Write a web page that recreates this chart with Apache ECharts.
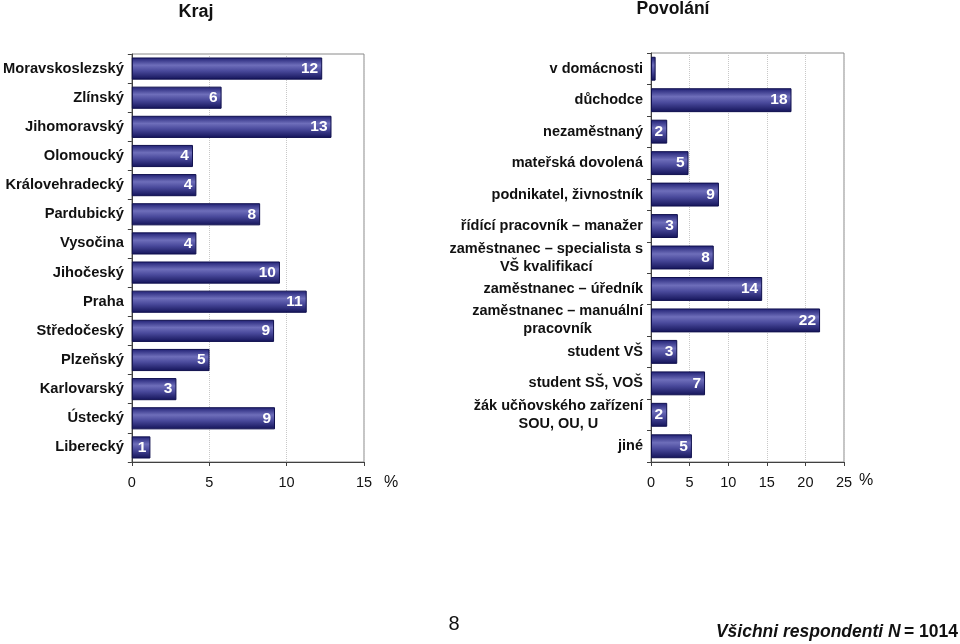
<!DOCTYPE html>
<html>
<head>
<meta charset="utf-8">
<script src="https://cdn.jsdelivr.net/npm/echarts@6/dist/echarts.min.js"></script>
<style>
html,body{margin:0;padding:0;background:#fff;}
#c{width:960px;height:644px;}
</style>
</head>
<body>
<div id="c"></div>
<script>
// ---- data ----
const krajCategories = ['Moravskoslezský','Zlínský','Jihomoravský','Olomoucký','Královehradecký','Pardubický','Vysočina','Jihočeský','Praha','Středočeský','Plzeňský','Karlovarský','Ústecký','Liberecký'];
const krajValues = [12.3, 5.8, 12.9, 3.95, 4.17, 8.29, 4.17, 9.57, 11.3, 9.19, 5.02, 2.88, 9.25, 1.2];
const krajTicks = [0, 5, 10, 15];

const povolaniCategories = ['v domácnosti','důchodce','nezaměstnaný','mateřská dovolená','podnikatel, živnostník','řídící pracovník – manažer','zaměstnanec – specialista s\nVŠ kvalifikací','zaměstnanec – úředník','zaměstnanec – manuální\npracovník','student VŠ','student SŠ, VOŠ','žák učňovského zařízení\nSOU, OU, U','jiné'];
const povolaniValues = [0.6, 18.2, 2.1, 4.86, 8.8, 3.48, 8.13, 14.4, 21.9, 3.4, 7.0, 2.1, 5.3];
const povolaniTicks = [0, 5, 10, 15, 20, 25];

const titleLeft = 'Kraj';
const titleRight = 'Povolání';
const pageNumber = '8';
const footnoteItalic = 'Všichni respondenti N';
const footnoteRest = '= 1014';
const unit = '%';

// ---- styles ----
const FONT = 'Liberation Sans, Arial, sans-serif';
const barGradient = new echarts.graphic.LinearGradient(0, 0, 0, 1, [
  {offset: 0, color: '#1e1e72'},
  {offset: 0.35, color: '#6e6eba'},
  {offset: 0.6, color: '#4a4a9c'},
  {offset: 1, color: '#131358'}
]);

function catLabelFormatter(v) {
  return v.split('\n').map(l => '{c|' + l + '}').join('\n');
}

function yAxisCommon(gridIndex, cats, fontSize) {
  return {
    type: 'category', gridIndex: gridIndex, data: cats, inverse: true,
    axisLine: {show: true, lineStyle: {color: '#404040', width: 1}},
    axisTick: {show: true, length: 4, lineStyle: {color: '#404040'}},
    axisLabel: {
      margin: 8, color: '#111', fontFamily: FONT, fontWeight: 'bold', fontSize: fontSize,
      formatter: catLabelFormatter,
      rich: {c: {align: 'center', fontFamily: FONT, fontWeight: 'bold', fontSize: fontSize, lineHeight: 18, color: '#111'}}
    },
    splitLine: {show: false}
  };
}

function xAxisCommon(gridIndex, ticks, gap, namePad) {
  return {
    type: 'value', gridIndex: gridIndex, min: ticks[0], max: ticks[ticks.length - 1],
    interval: ticks[1] - ticks[0],
    name: unit, nameLocation: 'end', nameGap: gap,
    nameTextStyle: {fontFamily: FONT, fontSize: 16, color: '#111', verticalAlign: 'top', padding: [namePad, 0, 0, 0]},
    axisLine: {show: true, lineStyle: {color: '#404040', width: 1}},
    axisTick: {show: true, length: 4, lineStyle: {color: '#404040'}},
    axisLabel: {margin: 13, color: '#111', fontFamily: FONT, fontSize: 14.5},
    splitLine: {show: true, lineStyle: {color: '#c8c8c8', type: 'dotted', width: 1}}
  };
}

function barSeries(idx, values, gapPct) {
  return {
    type: 'bar', xAxisIndex: idx, yAxisIndex: idx, data: values,
    barCategoryGap: gapPct,
    itemStyle: {color: barGradient, borderColor: '#10104e', borderWidth: 1},
    label: {
      show: true, position: 'insideRight', distance: 4, color: '#fff',
      fontFamily: FONT, fontWeight: 'bold', fontSize: 15.5,
      formatter: p => (p.value < 1 ? '' : String(Math.round(p.value)))
    },
    silent: true, animation: false
  };
}

const chart = echarts.init(document.getElementById('c'), null, {renderer: 'canvas'});
chart.setOption({
  animation: false,
  backgroundColor: '#fff',
  grid: [
    {left: 130, top: 54, width: 234, height: 408, show: true, borderColor: '#8a8a8a', borderWidth: 1, backgroundColor: 'transparent'},
    {left: 651, top: 53, width: 193, height: 409, show: true, borderColor: '#8a8a8a', borderWidth: 1, backgroundColor: 'transparent'}
  ],
  xAxis: [xAxisCommon(0, krajTicks, 20, 13), xAxisCommon(1, povolaniTicks, 15, 11)],
  yAxis: [yAxisCommon(0, krajCategories, 14.7), yAxisCommon(1, povolaniCategories, 14.5)],
  series: [barSeries(0, krajValues, '24%'), barSeries(1, povolaniValues, '24%')],
  graphic: [
    {type: 'text', x: 196, y: 12, style: {text: titleLeft, fontFamily: FONT, fontWeight: 'bold', fontSize: 18, fill: '#111', align: 'center', verticalAlign: 'middle'}},
    {type: 'text', x: 673, y: 9, style: {text: titleRight, fontFamily: FONT, fontWeight: 'bold', fontSize: 17.5, fill: '#111', align: 'center', verticalAlign: 'middle'}},
    {type: 'text', x: 454, y: 624, style: {text: pageNumber, fontFamily: FONT, fontSize: 20, fill: '#111', align: 'center', verticalAlign: 'middle'}},
    {type: 'text', x: 958, y: 632, style: {
      text: '{i|' + footnoteItalic + '} {n|' + footnoteRest + '}',
      align: 'right', verticalAlign: 'middle',
      rich: {
        i: {fontFamily: FONT, fontWeight: 'bold', fontStyle: 'italic', fontSize: 17.5, fill: '#111'},
        n: {fontFamily: FONT, fontWeight: 'bold', fontSize: 17.5, fill: '#111'}
      }
    }}
  ]
});
</script>
</body>
</html>
